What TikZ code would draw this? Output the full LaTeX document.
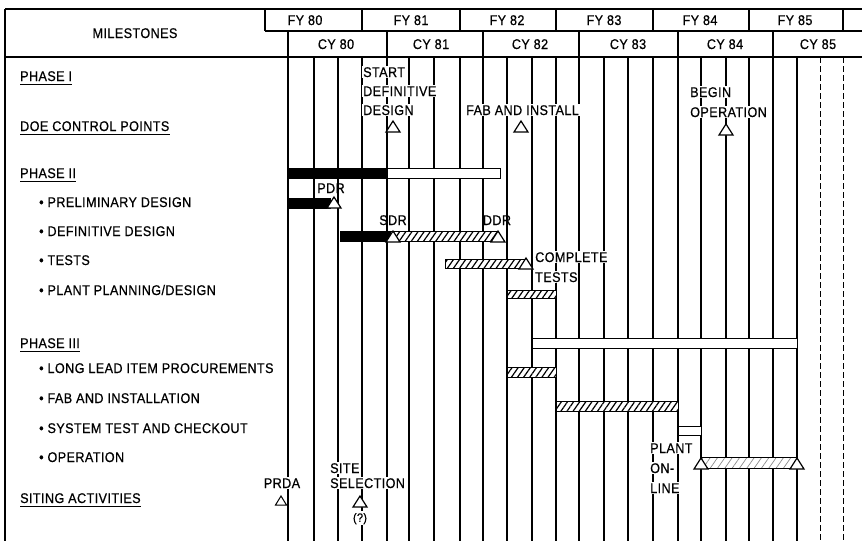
\documentclass[tikz,border=0pt]{standalone}
\usepackage{fontspec}
\setmainfont{Liberation Sans}[LetterSpace=3, FakeStretch=0.9, FakeBold=0.6]
\usetikzlibrary{patterns.meta}
\newcommand\chfont{\fontsize{14}{16}\selectfont}
\begin{document}
\begin{tikzpicture}[x=1pt,y=-1pt,
  every node/.style={font=\chfont, inner sep=1pt, text height=10pt, text depth=0pt},
  wlbl/.style={fill=white},
  hdrline/.style={line width=1.2pt},
  gridln/.style={line width=1.1pt},
  dgridln/.style={line width=0.9pt, dash pattern=on 6pt off 3pt},
  ulinestyle/.style={line width=1pt},
  barbox/.style={draw, line width=1pt},
  hatchbar/.style={barbox, preaction={fill=white}, pattern={Lines[angle=55,distance=5pt,line width=1.2pt]}},
  fainthatch/.style={barbox, preaction={fill=white}, pattern={Lines[angle=55,distance=6pt,line width=0.7pt]}, pattern color=black!45},
  mstone/.pic={\draw[fill=white,line width=1.2pt,line join=miter] (-7,0) -- (0,-11) -- (7,0) -- cycle;},
  smstone/.pic={\draw[fill=white,line width=1pt,line join=miter] (-5.5,0) -- (0,-9) -- (5.5,0) -- cycle;}
]
\useasboundingbox[fill=white] (0,0) rectangle (862,541);

% ---------- grid ----------
\foreach \x in {288,314,338,362,387,409,434,460,483,507,532,556,579,604,628,653,678,701,726,749,773,797}
  \draw[gridln] (\x,57) -- (\x,541);
\foreach \x in {820,843}
  \draw[dgridln] (\x,57) -- (\x,541);

% ---------- header ----------
\draw[hdrline] (5,9) -- (862,9);
\draw[hdrline] (5,9) -- (5,541);
\draw[hdrline] (265,31) -- (862,31);
\draw[hdrline] (5,57) -- (862,57);
\foreach \x in {265,362,460,556,653,749,843}
  \draw[hdrline] (\x,9) -- (\x,31);
\foreach \x in {288,387,483,579,678,773}
  \draw[hdrline] (\x,31) -- (\x,57);

\node (mil) at (135,33) {MILESTONES};
\node (fy80) at (305,20) {FY 80};
\node (fy81) at (411,20) {FY 81};
\node (fy82) at (507,20) {FY 82};
\node (fy83) at (604,20) {FY 83};
\node (fy84) at (700,20) {FY 84};
\node (fy85) at (795,20) {FY 85};
\node (cy80) at (336,44) {CY 80};
\node (cy81) at (431,44) {CY 81};
\node (cy82) at (530,44) {CY 82};
\node (cy83) at (628,44) {CY 83};
\node (cy84) at (725,44) {CY 84};
\node (cy85) at (818,44) {CY 85};

% ---------- left labels ----------
\node[anchor=west] (ph1) at (19,76) {PHASE I};
\node[anchor=west] (doe) at (19,126) {DOE CONTROL POINTS};
\node[anchor=west] (ph2) at (19,173) {PHASE II};
\node[anchor=west] (l1) at (38,202) {• PRELIMINARY DESIGN};
\node[anchor=west] (l2) at (38,231) {• DEFINITIVE DESIGN};
\node[anchor=west] (l3) at (38,260) {• TESTS};
\node[anchor=west] (l4) at (38,290) {• PLANT PLANNING/DESIGN};
\node[anchor=west] (ph3) at (19,343) {PHASE III};
\node[anchor=west] (l5) at (38,368) {• LONG LEAD ITEM PROCUREMENTS};
\node[anchor=west] (l6) at (38,398) {• FAB AND INSTALLATION};
\node[anchor=west] (l7) at (38,428) {• SYSTEM TEST AND CHECKOUT};
\node[anchor=west] (l8) at (38,457) {• OPERATION};
\node[anchor=west] (site) at (19,498) {SITING ACTIVITIES};
\foreach \n in {ph1,doe,ph2,ph3,site}
  \draw[ulinestyle] ([yshift=-2pt,xshift=1pt]\n.south west) -- ([yshift=-2pt,xshift=-1pt]\n.south east);

% ---------- DOE control points ----------
\node[wlbl,anchor=west] (sdd1) at (362,72) {START};
\node[wlbl,anchor=west] (sdd2) at (362,91) {DEFINITIVE};
\node[wlbl,anchor=west] (sdd3) at (362,110) {DESIGN};
\pic at (393,132) {mstone};
\node[wlbl,anchor=west] (fai) at (465,110) {FAB AND INSTALL};
\pic at (521,132) {mstone};
\node[wlbl,anchor=west] (bo1) at (689,92) {BEGIN};
\node[wlbl,anchor=west] (bo2) at (689,112) {OPERATION};
\pic at (726,135) {mstone};

% ---------- Phase II ----------
\draw[barbox, fill=white] (288,168) rectangle (500,178);
\draw[barbox, fill=black] (288,168) rectangle (387,178);

\draw[barbox, fill=black] (288,198) rectangle (330,208);
\pic at (334,208) {mstone};
\node (pdr) at (331,188) {PDR};

\draw[barbox, fill=black] (340,231) rectangle (390,241);
\draw[hatchbar] (390,231) rectangle (498,241);
\pic at (393,242) {mstone};
\pic at (498,242) {mstone};
\node (sdr) at (393,220) {SDR};
\node (ddr) at (497,220) {DDR};

\draw[hatchbar] (445,259) rectangle (526,268);
\pic at (526,269) {mstone};
\node[wlbl,anchor=west] (ct1) at (534,257) {COMPLETE};
\node[wlbl,anchor=west] (ct2) at (534,277) {TESTS};

\draw[hatchbar] (507,290) rectangle (556,298);

% ---------- Phase III ----------
\draw[barbox, fill=white] (532,338) rectangle (797,348);
\draw[hatchbar] (507,367) rectangle (556,377);
\draw[hatchbar] (556,401) rectangle (678,411);
\draw[barbox, fill=white] (678,426) rectangle (701,435);
\draw[fainthatch] (701,457) rectangle (797,468);
\pic at (701,469) {mstone};
\pic at (797,469) {mstone};
\node[wlbl,anchor=west] (po1) at (649,448) {PLANT};
\node[wlbl,anchor=west] (po2) at (649,468) {ON-};
\node[wlbl,anchor=west] (po3) at (649,488) {LINE};

% ---------- siting ----------
\node[wlbl] (prda) at (282,483) {PRDA};
\pic at (281,505) {smstone};
\node[wlbl,anchor=west] (ss1) at (329,468) {SITE};
\node[wlbl,anchor=west] (ss2) at (329,483) {SELECTION};
\pic at (360,507) {mstone};
\node[wlbl, text depth=2.5pt, font=\fontsize{12}{14}\selectfont] (qm) at (360,518) {(?)};
\end{tikzpicture}
\end{document}
